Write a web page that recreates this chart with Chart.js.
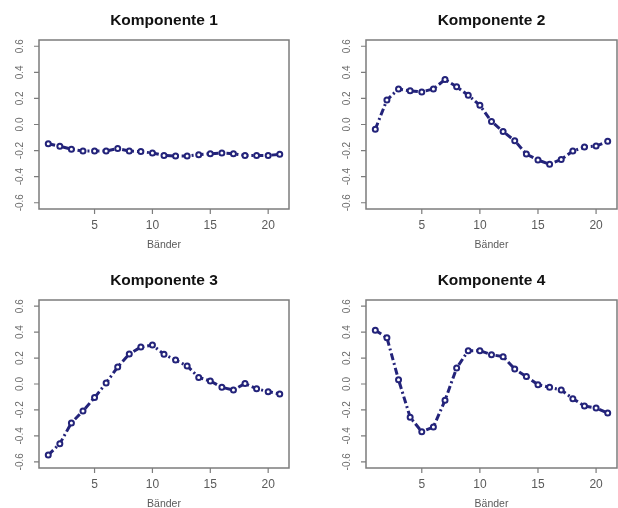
<!DOCTYPE html>
<html>
<head>
<meta charset="utf-8">
<script src="https://cdn.jsdelivr.net/npm/chart.js@4"></script>
<style>
  html, body { margin: 0; padding: 0; background: #fff; }
  #wrap { position: relative; width: 618px; height: 508px; overflow: hidden; }
  .panel { position: absolute; }
</style>
</head>
<body>
<div id="wrap">
  <canvas id="c1" class="panel" style="left:0;top:0"></canvas>
  <canvas id="c2" class="panel" style="left:309px;top:0"></canvas>
  <canvas id="c3" class="panel" style="left:0;top:254px"></canvas>
  <canvas id="c4" class="panel" style="left:309px;top:254px"></canvas>
</div>
<script>
// Bands on the x axis
const bands = [1, 2, 3, 4, 5, 6, 7, 8, 9, 10, 11, 12, 13, 14, 15, 16, 17, 18, 19, 20, 21];

// Loadings
const komp1 = [-0.147, -0.167, -0.19, -0.203, -0.203, -0.203, -0.185, -0.203, -0.208, -0.219, -0.237,
               -0.242, -0.242, -0.232, -0.224, -0.219, -0.224, -0.237, -0.237, -0.237, -0.229];
const komp2 = [-0.036, 0.188, 0.273, 0.258, 0.25, 0.273, 0.345, 0.289, 0.224, 0.147, 0.023,
               -0.054, -0.124, -0.227, -0.273, -0.304, -0.268, -0.204, -0.173, -0.165, -0.129];
const komp3 = [-0.548, -0.46, -0.30, -0.208, -0.105, 0.008, 0.131, 0.231, 0.285, 0.30, 0.229,
               0.185, 0.139, 0.051, 0.023, -0.026, -0.046, 0.003, -0.036, -0.059, -0.077];
const komp4 = [0.414, 0.357, 0.033, -0.257, -0.368, -0.332, -0.126, 0.123, 0.257, 0.257, 0.226,
               0.211, 0.116, 0.057, -0.005, -0.026, -0.046, -0.113, -0.17, -0.185, -0.224];

const titles = ['Komponente 1', 'Komponente 2', 'Komponente 3', 'Komponente 4'];
const xTicks = [5, 10, 15, 20];
const yTicks = [-0.6, -0.4, -0.2, 0.0, 0.2, 0.4, 0.6];
const yTickLabels = ['-0.6', '-0.4', '-0.2', '0.0', '0.2', '0.4', '0.6'];
const xLabel = 'B\u00e4nder';

const FONT = '"Liberation Sans", Arial, sans-serif';
const NAVY = '#23237a';
const GREY = '#7c7c7c';

// draws the R-style frame, ticks, labels and title
const rAxes = {
    id: 'rAxes',
    afterDraw(chart, args, opts) {
        const { ctx, chartArea: a, scales: { x, y } } = chart;
        ctx.save();

        ctx.strokeStyle = GREY;
        ctx.lineWidth = 1.5;
        ctx.strokeRect(a.left, a.top, a.right - a.left, a.bottom - a.top);

        ctx.lineWidth = 1.2;
        ctx.beginPath();
        x.ticks.forEach(t => {
            const px = x.getPixelForValue(t.value);
            ctx.moveTo(px, a.bottom);
            ctx.lineTo(px, a.bottom + 5);
        });
        y.ticks.forEach(t => {
            const py = y.getPixelForValue(t.value);
            ctx.moveTo(a.left - 5, py);
            ctx.lineTo(a.left, py);
        });
        ctx.stroke();

        ctx.fillStyle = '#5a5a5a';
        ctx.textAlign = 'center';
        ctx.textBaseline = 'middle';

        ctx.font = '12px ' + FONT;
        x.ticks.forEach(t => {
            ctx.fillText(String(t.value), x.getPixelForValue(t.value), a.bottom + 17);
        });

        ctx.fillStyle = '#6a6a6a';
        ctx.font = '10px ' + FONT;
        y.ticks.forEach((t, i) => {
            ctx.save();
            ctx.translate(a.left - 19, y.getPixelForValue(t.value));
            ctx.rotate(-Math.PI / 2);
            ctx.fillText(yTickLabels[i], 0, 0);
            ctx.restore();
        });

        ctx.fillStyle = '#5a5a5a';
        ctx.font = '10.5px ' + FONT;
        ctx.fillText(xLabel, (a.left + a.right) / 2, a.bottom + 36);

        ctx.fillStyle = '#111';
        ctx.font = 'bold 15.5px ' + FONT;
        ctx.fillText(opts.title, (a.left + a.right) / 2, a.top - 19);

        ctx.restore();
    }
};

function makePanel(id, values, title, w, h, pad) {
    const canvas = document.getElementById(id);
    canvas.width = w;
    canvas.height = h;
    canvas.style.width = w + 'px';
    canvas.style.height = h + 'px';

    return new Chart(canvas.getContext('2d'), {
        type: 'line',
        data: {
            datasets: [{
                data: bands.map((b, i) => ({ x: b, y: values[i] })),
                borderColor: NAVY,
                borderWidth: 3,
                borderDash: [7, 3, 2, 3],
                pointRadius: 2.5,
                pointBorderWidth: 2,
                pointBorderColor: NAVY,
                pointBackgroundColor: '#ffffff',
                tension: 0,
                fill: false
            }]
        },
        options: {
            responsive: false,
            animation: false,
            devicePixelRatio: 1,
            layout: { padding: pad, autoPadding: false },
            plugins: {
                legend: { display: false },
                tooltip: { enabled: false },
                title: { display: false },
                rAxes: { title: title }
            },
            scales: {
                x: {
                    type: 'linear',
                    display: false,
                    min: 0.2,
                    max: 21.8,
                    afterBuildTicks: s => { s.ticks = xTicks.map(v => ({ value: v })); }
                },
                y: {
                    type: 'linear',
                    display: false,
                    min: -0.648,
                    max: 0.648,
                    afterBuildTicks: s => { s.ticks = yTicks.map(v => ({ value: v })); }
                }
            }
        },
        plugins: [rAxes]
    });
}

makePanel('c1', komp1, titles[0], 309, 254, { left: 39, right: 20, top: 40, bottom: 45 });
makePanel('c2', komp2, titles[1], 309, 254, { left: 57, right: 1, top: 40, bottom: 45 });
makePanel('c3', komp3, titles[2], 309, 254, { left: 39, right: 20, top: 46, bottom: 40 });
makePanel('c4', komp4, titles[3], 309, 254, { left: 57, right: 1, top: 46, bottom: 40 });
</script>
</body>
</html>
